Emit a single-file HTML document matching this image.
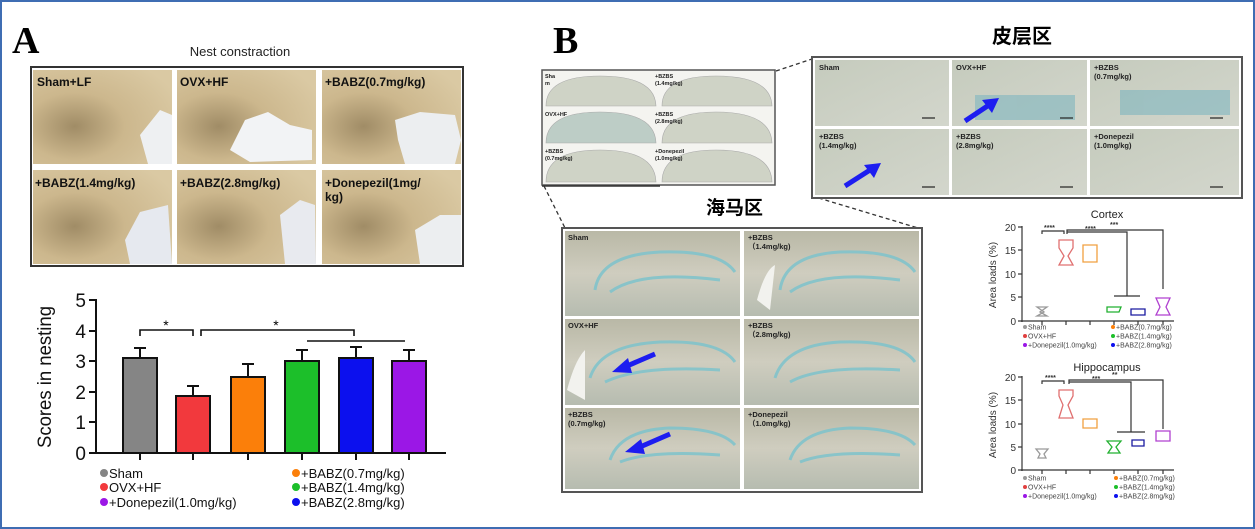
<!DOCTYPE html>
<html><head><meta charset="utf-8"><style>
html,body{margin:0;padding:0;background:#fff}
svg{display:block}
text{font-family:"Liberation Sans","Noto Sans CJK SC",sans-serif}
</style></head><body>
<svg width="1255" height="529" viewBox="0 0 1255 529" xmlns="http://www.w3.org/2000/svg">
<defs>
<radialGradient id="nest" cx="0.3" cy="0.6" r="0.8">
<stop offset="0" stop-color="#a08c66"/><stop offset="0.45" stop-color="#ccb78d"/><stop offset="1" stop-color="#dac9a3"/>
</radialGradient>
<linearGradient id="ctx" x1="0" y1="0" x2="1" y2="1"><stop offset="0" stop-color="#c5cbbd"/><stop offset="1" stop-color="#d3d6cc"/></linearGradient>
<linearGradient id="hip" x1="0" y1="0" x2="0" y2="1"><stop offset="0" stop-color="#b9b8a6"/><stop offset="0.5" stop-color="#cfcdbf"/><stop offset="1" stop-color="#b6bcb0"/></linearGradient>
</defs>
<rect x="1" y="1" width="1253" height="527" fill="#fff" stroke="#3f6db3" stroke-width="2"/>

<!-- Panel A -->
<text x="12" y="53" font-weight="bold" font-size="38" style="font-family:'Liberation Serif',serif">A</text>
<text x="240" y="56" font-size="13" text-anchor="middle" fill="#222">Nest constraction</text>
<rect x="31" y="67" width="432" height="199" fill="#fff" stroke="#333" stroke-width="2"/>
<g font-size="12" font-weight="bold" fill="#111">
<rect x="33" y="70" width="139" height="94" fill="url(#nest)"/>
<rect x="177" y="70" width="139" height="94" fill="url(#nest)"/>
<rect x="322" y="70" width="139" height="94" fill="url(#nest)"/>
<rect x="33" y="170" width="139" height="94" fill="url(#nest)"/>
<rect x="177" y="170" width="139" height="94" fill="url(#nest)"/>
<rect x="322" y="170" width="139" height="94" fill="url(#nest)"/>
<polygon points="140,135 160,110 172,115 172,164 148,164" fill="#eef0f2"/>
<polygon points="230,150 245,120 268,112 290,125 312,130 312,160 250,162" fill="#f2f3f5"/>
<polygon points="395,120 420,112 455,115 461,140 455,164 405,164 398,140" fill="#eceef0"/>
<polygon points="125,240 140,212 168,205 172,264 130,264" fill="#e6e9ef"/>
<polygon points="280,215 300,200 315,205 316,264 285,264" fill="#e8eaef"/>
<polygon points="415,230 440,215 461,215 461,264 420,264" fill="#eceef0"/>
<text x="37" y="86">Sham+LF</text>
<text x="180" y="86">OVX+HF</text>
<text x="325" y="86">+BABZ(0.7mg/kg)</text>
<text x="35" y="187">+BABZ(1.4mg/kg)</text>
<text x="180" y="187">+BABZ(2.8mg/kg)</text>
<text x="325" y="187">+Donepezil(1mg/</text>
<text x="325" y="201">kg)</text>
</g>

<!-- Bar chart -->
<g stroke="#111" stroke-width="2" fill="none">
<line x1="96" y1="299" x2="96" y2="454"/>
<line x1="95" y1="453" x2="446" y2="453"/>
<line x1="89" y1="300" x2="96" y2="300"/><line x1="89" y1="331" x2="96" y2="331"/><line x1="89" y1="361" x2="96" y2="361"/><line x1="89" y1="392" x2="96" y2="392"/><line x1="89" y1="422" x2="96" y2="422"/><line x1="89" y1="453" x2="96" y2="453"/>
<line x1="140" y1="453" x2="140" y2="460"/><line x1="193" y1="453" x2="193" y2="460"/><line x1="248" y1="453" x2="248" y2="460"/><line x1="302" y1="453" x2="302" y2="460"/><line x1="356" y1="453" x2="356" y2="460"/><line x1="409" y1="453" x2="409" y2="460"/>
</g>
<g font-size="19" fill="#111" text-anchor="end">
<text x="86" y="307">5</text><text x="86" y="338">4</text><text x="86" y="368">3</text><text x="86" y="399">2</text><text x="86" y="429">1</text><text x="86" y="460">0</text>
</g>
<text transform="translate(51,377) rotate(-90)" font-size="19" text-anchor="middle" fill="#111" textLength="142" lengthAdjust="spacingAndGlyphs">Scores in nesting</text>
<g stroke="#111" stroke-width="2">
<line x1="140" y1="358" x2="140" y2="348"/><line x1="134" y1="348" x2="146" y2="348"/>
<line x1="193" y1="396" x2="193" y2="386"/><line x1="187" y1="386" x2="199" y2="386"/>
<line x1="248" y1="377" x2="248" y2="364"/><line x1="242" y1="364" x2="254" y2="364"/>
<line x1="302" y1="361" x2="302" y2="350"/><line x1="296" y1="350" x2="308" y2="350"/>
<line x1="356" y1="358" x2="356" y2="347"/><line x1="350" y1="347" x2="362" y2="347"/>
<line x1="409" y1="361" x2="409" y2="350"/><line x1="403" y1="350" x2="415" y2="350"/>
<rect x="123" y="358" width="34" height="95" fill="#858585"/>
<rect x="176" y="396" width="34" height="57" fill="#f2393d"/>
<rect x="231" y="377" width="34" height="76" fill="#fb7f0a"/>
<rect x="285" y="361" width="34" height="92" fill="#1cbf2a"/>
<rect x="339" y="358" width="34" height="95" fill="#0c10ee"/>
<rect x="392" y="361" width="34" height="92" fill="#9b17e6"/>
</g>
<g stroke="#111" stroke-width="1.6" fill="none">
<polyline points="140,336 140,330 193,330 193,336"/>
<polyline points="201,336 201,330 354,330 354,336"/>
<line x1="307" y1="341" x2="405" y2="341"/>
</g>
<text x="166" y="330" font-size="14" text-anchor="middle">*</text>
<text x="276" y="330" font-size="14" text-anchor="middle">*</text>
<g font-size="13" fill="#111">
<circle cx="104" cy="473" r="4" fill="#858585"/><text x="109" y="478">Sham</text>
<circle cx="104" cy="487" r="4" fill="#f2393d"/><text x="109" y="492">OVX+HF</text>
<circle cx="104" cy="502" r="4" fill="#9b17e6"/><text x="109" y="507">+Donepezil(1.0mg/kg)</text>
<circle cx="296" cy="473" r="4" fill="#fb7f0a"/><text x="301" y="478">+BABZ(0.7mg/kg)</text>
<circle cx="296" cy="487" r="4" fill="#1cbf2a"/><text x="301" y="492">+BABZ(1.4mg/kg)</text>
<circle cx="296" cy="502" r="4" fill="#0c10ee"/><text x="301" y="507">+BABZ(2.8mg/kg)</text>
</g>

<!-- Panel B -->
<text x="553" y="53" font-weight="bold" font-size="38" style="font-family:'Liberation Serif',serif">B</text>
<text x="992" y="43" font-size="20" font-weight="bold">皮层区</text>
<text x="706" y="214" font-size="19" font-weight="bold">海马区</text>

<rect x="542" y="70" width="233" height="115" fill="#f4f4f0" stroke="#555" stroke-width="1.5"/>
<g fill="#cfd3c6" stroke="#aaa" stroke-width="0.6">
<path d="M546,106 Q546,76 600,76 Q655,76 656,106 Z"/><path d="M662,106 Q662,76 716,76 Q771,76 772,106 Z"/>
<path d="M546,143 Q546,112 600,112 Q655,112 656,143 Z" fill="#bdcdc6"/><path d="M662,143 Q662,112 716,112 Q771,112 772,143 Z"/>
<path d="M546,182 Q546,150 600,150 Q655,150 656,182 Z"/><path d="M662,182 Q662,150 716,150 Q771,150 772,182 Z"/>
</g>
<g font-size="5.5" font-weight="bold" fill="#222">
<text x="545" y="78">Sha</text><text x="545" y="85">m</text>
<text x="655" y="78">+BZBS</text><text x="655" y="85">(1.4mg/kg)</text>
<text x="545" y="116">OVX+HF</text>
<text x="655" y="116">+BZBS</text><text x="655" y="123">(2.8mg/kg)</text>
<text x="545" y="153">+BZBS</text><text x="545" y="160">(0.7mg/kg)</text>
<text x="655" y="153">+Donepezil</text><text x="655" y="160">(1.0mg/kg)</text>
</g>
<line x1="542" y1="186" x2="660" y2="186" stroke="#333" stroke-width="1.5"/>

<g stroke="#333" stroke-width="1.3" stroke-dasharray="4,3" fill="none">
<line x1="776" y1="71" x2="812" y2="59"/>
<line x1="812" y1="196" x2="918" y2="228"/>
<line x1="544" y1="186" x2="566" y2="230"/>
</g>

<rect x="812" y="57" width="430" height="141" fill="#fff" stroke="#555" stroke-width="2"/>
<g fill="url(#ctx)">
<rect x="815" y="60" width="134" height="66"/><rect x="952" y="60" width="135" height="66"/><rect x="1090" y="60" width="149" height="66"/>
<rect x="815" y="129" width="134" height="66"/><rect x="952" y="129" width="135" height="66"/><rect x="1090" y="129" width="149" height="66"/>
</g>
<g fill="#7fb6bf" opacity="0.6">
<rect x="975" y="95" width="100" height="25"/><rect x="1120" y="90" width="110" height="25"/>
</g>
<g font-size="7.5" font-weight="bold" fill="#222">
<text x="819" y="70">Sham</text><text x="956" y="70">OVX+HF</text><text x="1094" y="70">+BZBS</text><text x="1094" y="79">(0.7mg/kg)</text>
<text x="819" y="139">+BZBS</text><text x="819" y="148">(1.4mg/kg)</text>
<text x="956" y="139">+BZBS</text><text x="956" y="148">(2.8mg/kg)</text>
<text x="1094" y="139">+Donepezil</text><text x="1094" y="148">(1.0mg/kg)</text>
</g>
<g stroke="#222" stroke-width="1.2">
<line x1="922" y1="118" x2="935" y2="118"/><line x1="1060" y1="118" x2="1073" y2="118"/><line x1="1210" y1="118" x2="1223" y2="118"/>
<line x1="922" y1="187" x2="935" y2="187"/><line x1="1060" y1="187" x2="1073" y2="187"/><line x1="1210" y1="187" x2="1223" y2="187"/>
</g>
<g stroke="#1d1df0" stroke-width="5" fill="#1d1df0">
<line x1="965" y1="121" x2="989" y2="105"/><polygon points="999,98 982,100 992,113" stroke="none"/>
<line x1="845" y1="186" x2="870" y2="170"/><polygon points="881,163 864,165 874,178" stroke="none"/>
</g>

<rect x="562" y="228" width="360" height="264" fill="#fff" stroke="#555" stroke-width="2"/>
<g fill="url(#hip)">
<rect x="565" y="231" width="175" height="85"/><rect x="744" y="231" width="175" height="85"/>
<rect x="565" y="319" width="175" height="86"/><rect x="744" y="319" width="175" height="86"/>
<rect x="565" y="408" width="175" height="81"/><rect x="744" y="408" width="175" height="81"/>
</g>
<g fill="none" stroke="#7ec3cc" stroke-width="3" opacity="0.85">
<path d="M595,290 Q600,255 660,252 Q720,250 735,272"/><path d="M610,292 Q640,270 720,280"/>
<path d="M780,290 Q785,255 840,252 Q900,250 915,272"/><path d="M790,292 Q820,270 900,280"/>
<path d="M590,378 Q600,345 660,342 Q720,340 735,362"/><path d="M605,382 Q640,365 720,370"/>
<path d="M775,378 Q785,345 840,342 Q900,340 915,362"/><path d="M790,382 Q820,365 900,370"/>
<path d="M610,460 Q620,430 670,428 Q720,428 735,445"/><path d="M620,462 Q650,450 720,455"/>
<path d="M790,460 Q800,430 850,428 Q900,428 915,445"/><path d="M800,462 Q830,450 900,455"/>
</g>
<g fill="#f2f2ee">
<path d="M757,300 Q765,270 775,265 L770,310 Z"/><path d="M567,390 Q575,360 585,350 L585,400 Z"/>
</g>
<g font-size="7.5" font-weight="bold" fill="#222">
<text x="568" y="240">Sham</text>
<text x="748" y="240">+BZBS</text><text x="748" y="249">（1.4mg/kg)</text>
<text x="568" y="328">OVX+HF</text>
<text x="748" y="328">+BZBS</text><text x="748" y="337">（2.8mg/kg)</text>
<text x="568" y="417">+BZBS</text><text x="568" y="426">(0.7mg/kg)</text>
<text x="748" y="417">+Donepezil</text><text x="748" y="426">（1.0mg/kg)</text>
</g>
<g stroke="#1d1df0" stroke-width="5" fill="#1d1df0">
<line x1="655" y1="354" x2="627" y2="366"/><polygon points="612,372 628,358 632,373" stroke="none"/>
<line x1="670" y1="434" x2="640" y2="447"/><polygon points="625,452 641,439 645,454" stroke="none"/>
</g>

<text x="1107" y="218" font-size="11" text-anchor="middle" fill="#222">Cortex</text>
<g stroke="#333" stroke-width="1.2" fill="none">
<line x1="1022" y1="226" x2="1022" y2="322"/><line x1="1021" y1="321" x2="1174" y2="321"/>
<line x1="1018" y1="227" x2="1022" y2="227"/><line x1="1018" y1="250" x2="1022" y2="250"/><line x1="1018" y1="274" x2="1022" y2="274"/><line x1="1018" y1="297" x2="1022" y2="297"/><line x1="1018" y1="321" x2="1022" y2="321"/>
<line x1="1042" y1="321" x2="1042" y2="325"/><line x1="1066" y1="321" x2="1066" y2="325"/><line x1="1090" y1="321" x2="1090" y2="325"/><line x1="1114" y1="321" x2="1114" y2="325"/><line x1="1138" y1="321" x2="1138" y2="325"/><line x1="1163" y1="321" x2="1163" y2="325"/>
<polyline points="1042,234 1042,231 1064,231 1064,234"/>
<polyline points="1067,234 1067,230 1163,230 1163,289"/>
<polyline points="1067,232 1127,232 1127,296"/>
<line x1="1114" y1="296" x2="1140" y2="296"/>
</g>
<g font-size="10" fill="#333" text-anchor="end">
<text x="1016" y="231">20</text><text x="1016" y="254">15</text><text x="1016" y="278">10</text><text x="1016" y="301">5</text><text x="1016" y="325">0</text>
</g>
<text transform="translate(996,275) rotate(-90)" font-size="10" text-anchor="middle" fill="#333">Area loads (%)</text>
<g font-size="7" font-weight="bold" fill="#333"><text x="1044" y="230">****</text><text x="1085" y="231">****</text><text x="1110" y="227">***</text></g>
<g fill="none" stroke-width="1.3">
<path d="M1037,307 L1047,307 L1040,312 L1047,316 L1037,316 L1044,312 Z" stroke="#999"/>
<path d="M1059,240 L1073,240 L1073,248 L1068,256 L1073,265 L1059,265 L1064,256 L1059,248 Z" stroke="#e07070"/>
<path d="M1083,245 L1097,245 L1097,262 L1083,262 Z" stroke="#f0a040"/>
<path d="M1107,307 L1121,307 L1119,312 L1107,312 Z" stroke="#22b030"/>
<path d="M1131,309 L1145,309 L1145,315 L1131,315 Z" stroke="#1a1aa0"/>
<path d="M1156,298 L1170,298 L1166,307 L1170,315 L1156,315 L1160,307 Z" stroke="#b040d0"/>
</g>
<g font-size="7" fill="#444">
<circle cx="1025" cy="327" r="2" fill="#999"/><text x="1028" y="329.5">Sham</text>
<circle cx="1025" cy="336" r="2" fill="#e04040"/><text x="1028" y="338.5">OVX+HF</text>
<circle cx="1025" cy="345" r="2" fill="#9b17e6"/><text x="1028" y="347.5">+Donepezil(1.0mg/kg)</text>
<circle cx="1113" cy="327" r="2" fill="#fb7f0a"/><text x="1116" y="329.5">+BABZ(0.7mg/kg)</text>
<circle cx="1113" cy="336" r="2" fill="#1cbf2a"/><text x="1116" y="338.5">+BABZ(1.4mg/kg)</text>
<circle cx="1113" cy="345" r="2" fill="#0c10ee"/><text x="1116" y="347.5">+BABZ(2.8mg/kg)</text>
</g>

<text x="1107" y="371" font-size="11" text-anchor="middle" fill="#222">Hippocampus</text>
<g stroke="#333" stroke-width="1.2" fill="none">
<line x1="1022" y1="376" x2="1022" y2="471"/><line x1="1021" y1="470" x2="1174" y2="470"/>
<line x1="1018" y1="377" x2="1022" y2="377"/><line x1="1018" y1="400" x2="1022" y2="400"/><line x1="1018" y1="424" x2="1022" y2="424"/><line x1="1018" y1="447" x2="1022" y2="447"/><line x1="1018" y1="470" x2="1022" y2="470"/>
<line x1="1042" y1="470" x2="1042" y2="474"/><line x1="1066" y1="470" x2="1066" y2="474"/><line x1="1090" y1="470" x2="1090" y2="474"/><line x1="1114" y1="470" x2="1114" y2="474"/><line x1="1138" y1="470" x2="1138" y2="474"/><line x1="1163" y1="470" x2="1163" y2="474"/>
<polyline points="1042,384 1042,381 1064,381 1064,384"/>
<polyline points="1069,384 1069,380 1163,380 1163,429"/>
<polyline points="1069,382 1131,382 1131,432"/>
<line x1="1117" y1="432" x2="1145" y2="432"/>
</g>
<g font-size="10" fill="#333" text-anchor="end">
<text x="1016" y="381">20</text><text x="1016" y="404">15</text><text x="1016" y="428">10</text><text x="1016" y="451">5</text><text x="1016" y="474">0</text>
</g>
<text transform="translate(996,425) rotate(-90)" font-size="10" text-anchor="middle" fill="#333">Area loads (%)</text>
<g font-size="7" font-weight="bold" fill="#333"><text x="1045" y="380">****</text><text x="1092" y="381">***</text><text x="1112" y="377">**</text></g>
<g fill="none" stroke-width="1.3">
<path d="M1036,449 L1048,449 L1044,454 L1046,458 L1038,458 L1040,454 Z" stroke="#999"/>
<path d="M1059,390 L1073,390 L1073,396 L1068,405 L1073,418 L1059,418 L1063,405 L1059,396 Z" stroke="#e07070"/>
<path d="M1083,419 L1097,419 L1097,428 L1083,428 Z" stroke="#f0a040"/>
<path d="M1107,441 L1121,441 L1116,447 L1120,453 L1108,453 L1112,447 Z" stroke="#22b030"/>
<path d="M1132,440 L1144,440 L1144,446 L1132,446 Z" stroke="#1a1aa0"/>
<path d="M1156,431 L1170,431 L1170,441 L1156,441 Z" stroke="#b040d0"/>
</g>
<g font-size="7" fill="#444">
<circle cx="1025" cy="478" r="2" fill="#999"/><text x="1028" y="480.5">Sham</text>
<circle cx="1025" cy="487" r="2" fill="#e04040"/><text x="1028" y="489.5">OVX+HF</text>
<circle cx="1025" cy="496" r="2" fill="#9b17e6"/><text x="1028" y="498.5">+Donepezil(1.0mg/kg)</text>
<circle cx="1116" cy="478" r="2" fill="#fb7f0a"/><text x="1119" y="480.5">+BABZ(0.7mg/kg)</text>
<circle cx="1116" cy="487" r="2" fill="#1cbf2a"/><text x="1119" y="489.5">+BABZ(1.4mg/kg)</text>
<circle cx="1116" cy="496" r="2" fill="#0c10ee"/><text x="1119" y="498.5">+BABZ(2.8mg/kg)</text>
</g>
</svg>
</body></html>
